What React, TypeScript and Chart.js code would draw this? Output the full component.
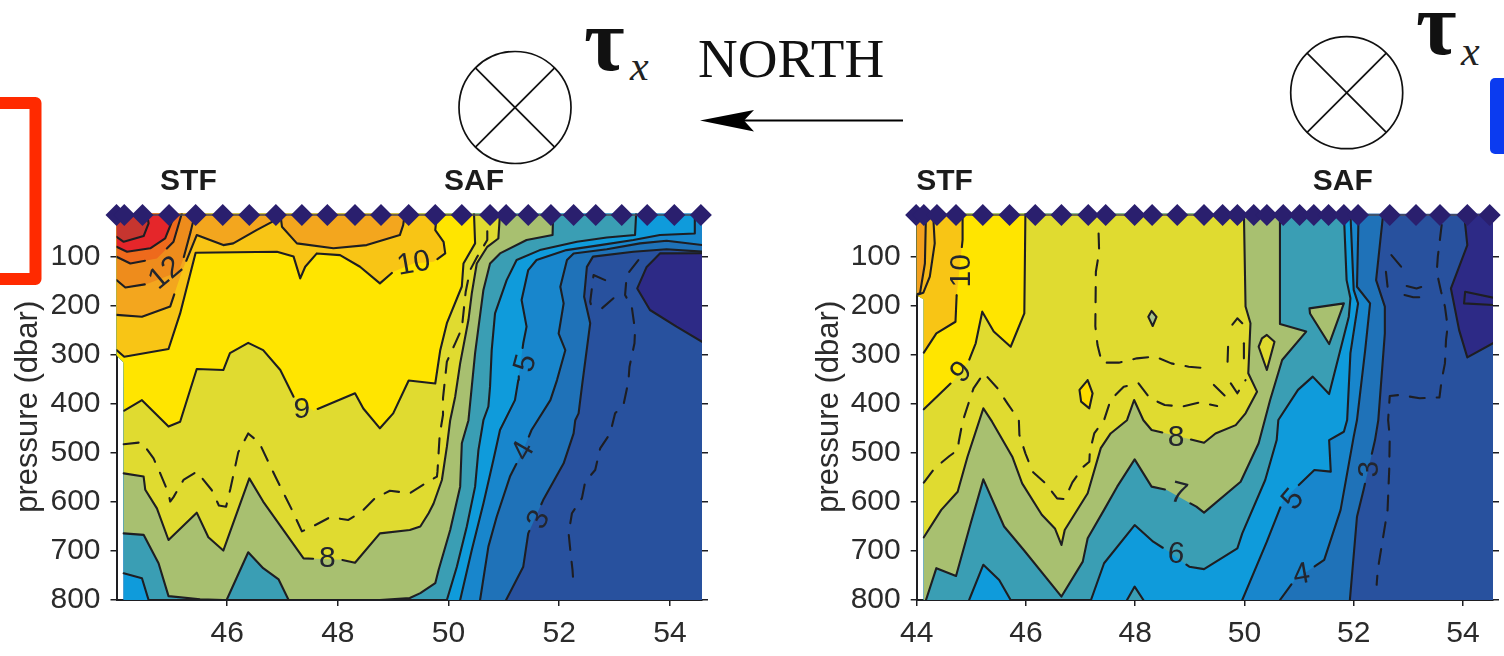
import React, { useEffect, useRef } from "react";
import { Chart, registerables } from "chart.js";
Chart.register(...registerables);

type P = [number, number];
const TOP = 11;
const XTICKS_L = [46, 48, 50, 52, 54];
const XTICKS_R = [44, 46, 48, 50, 52, 54];
const YTICKS = [100, 200, 300, 400, 500, 600, 700, 800];

const STATIONS_L = [44.0, 44.14, 44.47, 44.95, 45.43, 45.92, 46.4, 46.88, 47.35, 47.81, 48.31, 48.78, 49.28, 49.76, 50.24, 50.75, 51.04, 51.44, 51.85, 52.26, 52.66, 53.13, 53.59, 54.08, 54.56];
const STATIONS_R = [43.99, 44.13, 44.37, 44.72, 45.21, 45.7, 46.17, 46.65, 47.14, 47.46, 47.99, 48.31, 48.77, 49.26, 49.6, 49.87, 50.17, 50.41, 50.71, 51.01, 51.27, 51.54, 51.82, 52.08, 52.66, 53.14, 53.58, 54.08, 54.49];

const C = {
  indigo: "#2d2a86", dark: "#28519e", t3: "#1f72b8", t4: "#1886cc", t5: "#0f9bdb", t6: "#3a9eb4",
  t7: "#a8c070", t8: "#e0db30", t9: "#ffe500", t10: "#f8c515", t105: "#f3a61e", t12: "#ee8c1c",
  t125: "#ee6a1c", t13: "#e5262a", t14: "#c6352f",
};

// ---- left section contours (latitude, dbar)
const L_BASE: P[] = [[44, TOP], [54.6, TOP], [54.6, 800], [44.13, 800], [44.13, 315], [44, 300]];
const L_EDGE_ALL: P[] = [[44, TOP], [44, 300], [44.13, 315], [44.13, 800]];
const L_EDGE_UP: P[] = [[44, TOP], [44, 300], [44.13, 315]];
const L_CORNER: P[] = [[54.6, TOP]];
const L_TL: P[] = [[44, TOP]];
const L_COLD: P[] = [[54.6, 92], [53.82, 92.5], [53.58, 120], [53.41, 164], [53.64, 208], [54.12, 242], [54.6, 274]];
const L_T3: P[] = [[51.04, 800], [51.35, 732], [51.44, 664], [51.71, 596], [52.08, 521], [52.26, 460], [52.29, 433], [52.35, 419], [52.41, 364.5], [52.56, 235], [52.45, 181], [52.5, 120], [52.61, 99], [53.34, 89], [53.94, 84], [54.6, 89]];
const L_T4: P[] = [[50.57, 800], [50.72, 691], [50.87, 630], [51.11, 548], [51.35, 494], [51.5, 453], [51.84, 392], [51.96, 351], [52.11, 290], [51.99, 256], [52.08, 194.5], [52.02, 160.5], [52.14, 106], [52.26, 92.5], [52.86, 84], [53.46, 72], [53.94, 66.7], [54.6, 75.5]];
const L_T5: P[] = [[50.21, 800], [50.42, 698], [50.63, 603], [50.81, 514], [50.93, 453], [51.2, 392], [51.26, 351], [51.35, 276], [51.41, 242], [51.32, 187.7], [51.44, 126.5], [51.59, 106], [52.13, 85.7], [52.74, 75.5], [53.34, 65], [53.82, 55], [54.45, 51.7], [54.45, TOP]];
const L_T6: P[] = [[44.13, 745.5], [44.46, 755.6], [44.58, 800], [49.97, 800], [50.15, 732], [50.33, 650], [50.48, 568.6], [50.54, 494], [50.63, 433], [50.72, 405], [50.75, 364.5], [50.78, 290], [50.84, 215], [51.05, 147], [51.23, 106], [51.65, 85.7], [52.32, 68.7], [52.86, 60], [53.37, 55], [53.39, TOP]];
const L_T7: P[] = [[44.13, 664], [44.49, 667], [44.76, 725], [44.94, 792], [45.51, 798.5], [45.93, 800], [45.99, 800], [46.38, 702.6], [46.65, 735], [46.93, 758], [47.11, 800], [48.76, 800], [49.3, 796], [49.49, 786], [49.76, 765.8], [49.82, 738.6], [50.03, 657], [50.21, 568.6], [50.24, 480], [50.36, 433], [50.42, 364.5], [50.48, 296], [50.63, 167], [50.75, 113], [50.93, 92.5], [51.41, 65], [51.88, 55], [51.89, TOP]];
const L_T8: P[] = [[44.13, 541.5], [44.49, 548], [44.52, 575], [44.73, 613], [44.94, 677.5], [45.45, 621.7], [45.66, 672], [45.93, 699], [46.4, 551.7], [46.65, 599], [47.38, 715], [48.07, 718], [48.31, 724], [48.76, 664], [49.3, 657], [49.49, 650], [49.64, 623], [49.73, 603], [49.88, 555], [49.97, 487], [50.03, 433], [50.12, 385], [50.21, 317], [50.36, 228], [50.42, 174], [50.51, 113], [50.7, 79], [50.9, 62], [50.93, TOP]];
const L_T9: P[] = [[44.14, 413.5], [44.46, 392], [44.94, 446], [45.15, 436], [45.45, 328.5], [45.93, 330.5], [46.05, 296], [46.38, 275], [46.65, 290], [46.96, 330.5], [47.2, 385], [47.56, 413.5], [48.31, 378], [48.46, 409], [48.76, 449.5], [49.0, 419], [49.28, 352], [49.76, 358], [49.85, 290], [49.97, 235], [50.24, 160], [50.27, 113], [50.48, 72], [50.46, TOP]];
const L_T10: P[] = [[44, 290], [44.14, 303.3], [44.94, 287.7], [45.15, 215], [45.43, 91], [46.9, 89], [47.2, 99], [47.32, 143.5], [47.41, 119.7], [47.62, 92.5], [48.04, 96], [48.4, 119.7], [48.76, 153.7], [49.0, 130], [49.37, 113], [49.73, 109.5], [49.94, 92.5], [49.91, 68.7], [49.76, 45], [49.79, TOP]];
const L_T105A: P[] = [[44, 218], [44.46, 221.7], [44.97, 201], [45.18, 130], [45.45, 55], [45.93, 75.5], [46.11, 72], [46.53, 45], [46.87, 24.5], [46.9, TOP]];
const L_T105B: P[] = [[46.96, TOP], [46.99, 38], [47.26, 72], [47.92, 82], [48.52, 75.5], [49.12, 55], [49.18, 34.7], [49.21, TOP]];
const L_T12: P[] = [[44, 147], [44.16, 162], [44.55, 155], [45.12, 130], [45.21, 102.7], [45.34, 48], [45.42, TOP]];
const L_T125: P[] = [[44, 99.3], [44.25, 113], [44.73, 102.7], [45.03, 68.7], [45.18, TOP]];
const L_T13: P[] = [[44, 79], [44.19, 89], [44.61, 82], [44.88, 62], [45.06, TOP]];
const L_T14: P[] = [[44, 58.5], [44.13, 68.7], [44.49, 57], [44.58, 31], [44.55, TOP]];
const L_DASH_85: P[] = [[44.13, 482], [44.46, 478], [44.67, 511], [44.79, 541.5], [44.94, 582], [44.97, 599], [45.03, 590], [45.21, 555], [45.45, 538], [45.72, 575.5], [45.85, 607], [45.98, 609.5], [46.06, 572], [46.2, 498.6], [46.38, 460], [46.58, 479], [46.87, 548], [47.17, 616], [47.35, 660], [47.56, 649], [47.86, 631], [48.19, 636.6], [48.43, 619.6], [48.67, 592.5], [48.94, 577], [49.3, 582], [49.58, 562], [49.79, 548], [49.8, 538], [49.84, 463], [49.9, 422], [49.9, 388], [49.97, 313.5], [50.12, 276], [50.24, 245.5], [50.31, 170.7], [50.39, 126.5], [50.52, 99], [50.7, 65], [50.7, 38]];
const L_DASH_3: P[] = [[53.43, 106], [53.22, 136.7], [53.19, 177.5], [53.31, 201], [53.37, 249], [53.36, 276], [53.27, 323.7], [53.25, 354], [53.16, 402], [53.01, 419], [52.92, 460], [52.74, 490.5], [52.65, 534.6], [52.47, 558.5], [52.41, 592], [52.23, 623], [52.17, 664], [52.2, 698], [52.24, 738.6], [52.26, 772.6]];
const L_DASH_3B: P[] = [[52.83, 147], [52.62, 136.7], [52.56, 191], [52.62, 218]];
const L_DASH_3C: P[] = [[52.98, 184], [52.77, 204.7]];

// ---- right section contours
const R_BASE: P[] = [[44, TOP], [54.6, TOP], [54.6, 800], [44.13, 800], [44.13, 186], [44, 178]];
const R_EDGE_ALL: P[] = [[44, TOP], [44, 178], [44.13, 186], [44.13, 800]];
const R_EDGE_UP: P[] = [[44, TOP], [44, 178], [44.13, 186]];
const R_EDGE_DOWN: P[] = [[44.13, 186], [44, 178], [44, TOP]];
const R_TL: P[] = [[44, TOP]];
const R_COLD: P[] = [[54.02, TOP], [54.08, 75.5], [53.78, 164], [53.93, 249], [54.08, 304.7], [54.6, 272.7]];
const R_COLD_TOP: P[] = [[54.6, TOP]];
const R_T3: P[] = [[51.93, 800], [52.06, 630], [52.18, 575.5], [52.39, 473.5], [52.45, 432.65], [52.57, 255.7], [52.57, 201], [52.41, 147], [52.54, TOP]];
const R_T4: P[] = [[50.65, 800], [50.92, 759], [51.46, 718], [51.76, 616], [52.0, 466.6], [52.06, 432.65], [52.21, 289.7], [52.3, 194.5], [52.06, 160.5], [52.09, TOP]];
const R_T5: P[] = [[49.96, 800], [50.41, 681], [50.71, 596], [51.28, 534.6], [51.58, 538], [51.55, 473.5], [51.82, 456.5], [51.88, 432.65], [51.94, 296], [52.08, 194.5], [52.0, 167], [51.94, TOP]];
const R_T6: P[] = [[44.96, 800], [45.22, 728], [45.51, 759], [45.72, 800], [47.19, 800], [47.43, 725], [47.99, 647], [48.33, 681], [48.57, 698], [48.99, 732], [49.26, 737], [49.87, 694.5], [49.96, 664], [50.38, 555], [50.59, 473.5], [50.62, 432.65], [50.98, 371], [51.25, 344], [51.55, 379.5], [51.91, 221.7], [51.94, 184], [51.87, 147], [51.82, TOP]];
const R_T6_ISLE: P[] = [[47.85, 800], [47.99, 772.6], [48.15, 800]];
const R_T7: P[] = [[44.17, 800], [44.36, 735], [44.72, 751], [44.99, 643], [45.22, 553.7], [45.6, 650], [45.96, 698], [46.65, 793], [47.04, 721.6], [47.13, 674], [47.43, 616], [47.67, 568.6], [47.99, 513], [48.3, 568.6], [48.57, 575], [49.12, 609.5], [49.26, 621.7], [49.93, 558.5], [50.26, 480], [50.47, 391.7], [50.69, 310], [51.13, 252], [50.65, 236.7], [50.65, TOP]];
const R_T7_ISLE: P[] = [[51.19, 204.7], [51.82, 194.5], [51.55, 277.5], [51.2, 215]];
const R_T8: P[] = [[44.13, 672], [44.45, 616], [44.75, 579], [44.93, 507.5], [45.22, 408.7], [45.38, 436], [45.75, 507.5], [45.93, 562], [46.29, 626], [46.53, 654], [46.65, 687.6], [46.71, 657], [47.13, 582], [47.37, 490], [47.55, 460], [47.85, 433], [47.98, 391.7], [48.15, 433], [48.3, 453], [48.57, 460], [48.93, 470], [49.26, 479], [49.47, 460], [49.84, 443], [50.02, 419], [50.23, 374.7], [50.07, 337], [50.11, 235], [50.02, 201], [49.99, TOP]];
const R_T8_ISLE: P[] = [[50.41, 259], [50.55, 272.7], [50.41, 330.5], [50.26, 283], [50.32, 266]];
const R_T7_SPECK: P[] = [[48.3, 210], [48.39, 222], [48.32, 240.7], [48.24, 222]];
const R_T9: P[] = [[45.99, TOP], [45.97, 215], [45.72, 283], [45.41, 252], [45.2, 211.5], [45.08, 276], [44.96, 310], [44.66, 354], [44.13, 410.7]];
const R_T9_ISLE: P[] = [[47.13, 351], [47.22, 378], [47.16, 408.7], [47.01, 395], [46.98, 371]];
const R_T10: P[] = [[44.84, TOP], [44.84, 65], [44.73, 181], [44.71, 232], [44.36, 255.7], [44.13, 295]];
const R_T105: P[] = [[44.3, TOP], [44.33, 72], [44.24, 140], [44.12, 173], [44, 177.5]];
const R_T11: P[] = [[44.17, TOP], [44.15, 113], [44.06, 174], [44, 176]];
const R_INNER: P[] = [[54.6, 184], [54.04, 170.7], [54.02, 194.5], [54.6, 198]];
const R_DASH_85A: P[] = [[44.13, 560.5], [44.33, 531], [44.6, 506], [44.75, 494], [44.77, 477], [44.84, 436], [44.93, 405], [45.04, 368], [45.23, 337], [45.48, 368], [45.66, 398.5], [45.87, 432.5], [45.88, 463], [45.99, 500.6], [46.12, 538], [46.36, 562], [46.57, 592.5], [46.71, 594], [46.85, 560], [47.05, 528], [47.16, 517.7], [47.17, 497], [47.25, 460], [47.43, 432.65], [47.55, 391.7], [47.79, 364.5], [48.06, 357.7], [48.27, 388], [48.54, 402], [48.87, 405], [49.19, 396.5], [49.5, 404]];
const R_DASH_85B: P[] = [[47.33, 51.7], [47.34, 89], [47.28, 130], [47.27, 241], [47.31, 279.5], [47.39, 315.5], [47.7, 315.5], [48.03, 306.7], [48.36, 303], [48.66, 317], [48.98, 323.7], [49.32, 327]];
const R_DASH_C: P[] = [[49.44, 361], [49.66, 385]];
const R_DASH_D: P[] = [[49.75, 357.7], [49.87, 378], [50.02, 351]];
const R_DASH_E: P[] = [[49.99, 306.7], [49.99, 269]];
const R_DASH_F: P[] = [[49.96, 235], [49.87, 225], [49.75, 242]];
const R_DASH_G: P[] = [[49.7, 283], [49.69, 317]];
const R_DASH_3: P[] = [[53.61, 34.7], [53.54, 99], [53.52, 130], [53.6, 170.7], [53.67, 201], [53.72, 242], [53.69, 269], [53.67, 317], [53.61, 351], [53.57, 386.3], [53.21, 388], [52.84, 381.5], [52.66, 383.5], [52.63, 432.65], [52.66, 466.6], [52.65, 534.6], [52.62, 616], [52.53, 677.5], [52.44, 738.6], [52.42, 769]];
const R_DASH_3B: P[] = [[52.69, 96], [52.87, 119.7]];
const R_DASH_3C: P[] = [[52.59, 130], [52.62, 160.5]];
const R_DASH_3D: P[] = [[52.97, 159], [53.15, 164], [53.3, 159]];
const R_DASH_3E: P[] = [[52.93, 177.5], [53.09, 182], [53.27, 182]];

type Lab = { t: string; x: number; y: number; r: number; gap?: number; bold?: boolean };
const LABELS_L: Lab[] = [
  { t: "12", x: 44.88, y: 132, r: -40, gap: 24 },
  { t: "10", x: 49.37, y: 112, r: -10, gap: 24 },
  { t: "9", x: 47.35, y: 410, r: 0, gap: 15 },
  { t: "8", x: 47.81, y: 714, r: 0, gap: 15 },
  { t: "5", x: 51.38, y: 316.5, r: -75, gap: 15 },
  { t: "4", x: 51.34, y: 495, r: -60, gap: 15 },
  { t: "3", x: 51.62, y: 635, r: -65, gap: 15 },
  { t: "STF", x: 45.3, y: -55, r: 0, bold: true },
  { t: "SAF", x: 50.46, y: -55, r: 0, bold: true },
];
const LABELS_R: Lab[] = [
  { t: "10", x: 44.81, y: 128, r: -90, gap: 24 },
  { t: "9", x: 44.81, y: 334, r: -45, gap: 15 },
  { t: "8", x: 48.75, y: 467, r: 0, gap: 15 },
  { t: "7", x: 48.8, y: 582, r: 15, gap: 15 },
  { t: "6", x: 48.75, y: 705, r: 5, gap: 15 },
  { t: "5", x: 50.88, y: 594, r: -50, gap: 15 },
  { t: "4", x: 51.04, y: 747, r: -10, gap: 15 },
  { t: "3", x: 52.27, y: 533, r: -90, gap: 15 },
  { t: "STF", x: 44.51, y: -55, r: 0, bold: true },
  { t: "SAF", x: 51.8, y: -55, r: 0, bold: true },
];

type Band = { pts: P[]; close?: P[]; color?: string; line?: boolean; loop?: boolean };
const BANDS_L: Band[] = [
  { pts: L_BASE, color: C.dark },
  { pts: L_COLD, close: L_CORNER, color: C.indigo, line: true },
  { pts: L_T3, close: [...L_CORNER, ...L_EDGE_ALL], color: C.t3, line: true },
  { pts: L_T4, close: [...L_CORNER, ...L_EDGE_ALL], color: C.t4, line: true },
  { pts: L_T5, close: L_EDGE_ALL, color: C.t5, line: true },
  { pts: L_T6, close: L_EDGE_UP, color: C.t6, line: true },
  { pts: L_T7, close: L_EDGE_UP, color: C.t7, line: true },
  { pts: L_T8, close: L_EDGE_UP, color: C.t8, line: true },
  { pts: L_T9, close: L_EDGE_UP, color: C.t9, line: true },
  { pts: L_T10, close: L_TL, color: C.t10, line: true },
  { pts: L_T105A, close: L_TL, color: C.t105, line: true },
  { pts: L_T105B, color: C.t105, line: true },
  { pts: L_T12, close: L_TL, color: C.t12, line: true },
  { pts: L_T125, close: L_TL, color: C.t125, line: true },
  { pts: L_T13, close: L_TL, color: C.t13, line: true },
  { pts: L_T14, close: L_TL, color: C.t14, line: true },
];
const BANDS_R: Band[] = [
  { pts: R_BASE, color: C.dark },
  { pts: R_COLD, close: R_COLD_TOP, color: C.indigo, line: true },
  { pts: R_T3, close: R_EDGE_ALL, color: C.t3, line: true },
  { pts: R_T4, close: R_EDGE_ALL, color: C.t4, line: true },
  { pts: R_T5, close: R_EDGE_ALL, color: C.t5, line: true },
  { pts: R_T6, close: R_EDGE_ALL, color: C.t6, line: true },
  { pts: R_T6_ISLE, color: C.t6, line: true },
  { pts: R_T7, close: R_EDGE_ALL, color: C.t7, line: true },
  { pts: R_T7_ISLE, color: C.t7, line: true, loop: true },
  { pts: R_T8, close: R_EDGE_UP, color: C.t8, line: true },
  { pts: R_T8_ISLE, color: C.t8, line: true, loop: true },
  { pts: R_T7_SPECK, color: "#a9c38a", line: true, loop: true },
  { pts: R_T9, close: R_EDGE_DOWN, color: C.t9, line: true },
  { pts: R_T9_ISLE, color: "#ffdc00", line: true, loop: true },
  { pts: R_T10, close: R_EDGE_DOWN, color: C.t10, line: true },
  { pts: R_T105, close: R_TL, color: "#f5b81b", line: true },
  { pts: R_T11, close: R_TL, color: "#f3a01e", line: true },
];
const DASHES_L: P[][] = [L_DASH_85, L_DASH_3, L_DASH_3B, L_DASH_3C];
const DASHES_R: P[][] = [R_DASH_85A, R_DASH_85B, R_DASH_C, R_DASH_D, R_DASH_E, R_DASH_F, R_DASH_G, R_DASH_3, R_DASH_3B, R_DASH_3C, R_DASH_3D, R_DASH_3E];
const SOLID_R: P[][] = [R_INNER];

const INK = "#1e1e22";
const TXT = "#2b2b2b";
const SANS = "'Liberation Sans', Arial, sans-serif";
const FS = 30;
const KM_X = 55.35;
const KM_Y = 0.49;

const xy = (a: P[]) => a.map(([x, y]) => ({ x, y }));

// break a contour where an inline label sits, as a contour plot does
function breakAtLabels(pts: P[], labels: Lab[]): P[][] {
  const gaps = labels.filter((l) => l.gap);
  const inside = (p: P) => gaps.some((l) => Math.hypot((p[0] - l.x) * KM_X, (p[1] - l.y) * KM_Y) < (l.gap as number));
  const runs: P[][] = [];
  let cur: P[] = [];
  for (let i = 0; i < pts.length; i++) {
    const b = pts[i];
    if (i > 0) {
      const a = pts[i - 1];
      const n = 40;
      let was = inside(a);
      for (let k = 1; k <= n; k++) {
        const q: P = [a[0] + ((b[0] - a[0]) * k) / n, a[1] + ((b[1] - a[1]) * k) / n];
        const now = inside(q);
        if (now && !was) { cur.push(q); if (cur.length > 1) runs.push(cur); cur = []; }
        if (!now && was) cur = [q];
        was = now;
      }
    }
    if (!inside(b)) cur.push(b);
  }
  if (cur.length > 1) runs.push(cur);
  return runs;
}

function buildDatasets(bands: Band[], dashes: P[][], solids: P[][], stations: number[], labels: Lab[]) {
  const ds: any[] = [];
  let order = 5000;
  for (const b of bands) {
    ds.push({ data: xy([...b.pts, ...(b.close || [])]), showLine: true, fill: "shape", backgroundColor: b.color, borderWidth: 0, borderColor: "transparent", pointRadius: 0, order: order-- });
  }
  const stroke = (pts: P[], dash: number[]) => ds.push({ data: xy(pts), showLine: true, fill: false, borderColor: INK, borderWidth: 2.1, borderDash: dash, borderJoinStyle: "round", borderCapStyle: "round", pointRadius: 0, order: 100 });
  for (const b of bands) if (b.line) for (const run of breakAtLabels(b.loop ? [...b.pts, b.pts[0]] : b.pts, labels)) stroke(run, []);
  for (const s of solids) stroke(s, []);
  for (const d of dashes) stroke(d, [15, 12]);
  ds.push({ data: stations.map((x) => ({ x, y: 14 })), showLine: true, borderColor: "#4a4a55", borderWidth: 1.5, pointStyle: "rectRot", pointRadius: 11, pointBackgroundColor: "#2a1f6e", pointBorderWidth: 0, clip: false, order: 1 });
  return ds;
}

function labelPlugin(labels: Lab[]) {
  return {
    id: "contourLabels",
    afterDatasetsDraw(chart: any) {
      const { ctx, scales } = chart;
      for (const l of labels) {
        const px = scales.x.getPixelForValue(l.x);
        const py = scales.y.getPixelForValue(l.y);
        ctx.save();
        ctx.translate(px, py);
        ctx.rotate((l.r * Math.PI) / 180);
        ctx.font = `${l.bold ? "bold " : ""}${FS}px ${SANS}`;
        ctx.textAlign = "center";
        ctx.textBaseline = "middle";
        ctx.fillStyle = l.bold ? "#1c1c1c" : "#23262e";
        ctx.fillText(l.t, 0, 1);
        ctx.restore();
      }
    },
  };
}

function makeChart(canvas: HTMLCanvasElement, o: { bands: Band[]; dashes: P[][]; solids: P[][]; stations: number[]; labels: Lab[]; xTicks: number[]; xMax: number; padLeft: number; yWidth: number; padRight: number; y2Width: number }) {
  const setTicks = (vals: number[]) => (s: any) => { s.ticks = vals.map((value) => ({ value })); };
  return new Chart(canvas, {
    type: "scatter",
    data: { datasets: buildDatasets(o.bands, o.dashes, o.solids, o.stations, o.labels) },
    plugins: [labelPlugin(o.labels)],
    options: {
      animation: false,
      responsive: false,
      events: [],
      layout: { padding: { left: o.padLeft, right: o.padRight, top: 213.5, bottom: 0 } },
      elements: { line: { tension: 0 } },
      plugins: { legend: { display: false }, tooltip: { enabled: false }, filler: { propagate: false } },
      scales: {
        x: {
          type: "linear", min: 44, max: o.xMax, afterBuildTicks: setTicks(o.xTicks),
          afterFit: (s: any) => { s.height = 56; },
          grid: { drawOnChartArea: false, tickLength: 6, color: INK, lineWidth: 1.5 },
          border: { display: true, color: INK, width: 2 },
          ticks: { autoSkip: false, maxRotation: 0, padding: 10, color: TXT, font: { family: SANS, size: FS }, callback: (v: any) => String(v) },
        },
        y: {
          type: "linear", reverse: true, min: TOP, max: 800, position: "left", afterBuildTicks: setTicks(YTICKS),
          afterFit: (s: any) => { s.width = o.yWidth; },
          grid: { drawOnChartArea: false, tickLength: 6, color: INK, lineWidth: 1.5 },
          border: { display: true, color: INK, width: 2 },
          title: { display: true, text: "pressure (dbar)", color: TXT, font: { family: SANS, size: 31 }, padding: 0 },
          ticks: { autoSkip: false, padding: 10, color: TXT, font: { family: SANS, size: FS }, callback: (v: any) => String(v) },
        },
        y2: {
          type: "linear", reverse: true, min: TOP, max: 800, position: "right", afterBuildTicks: setTicks(YTICKS),
          afterFit: (s: any) => { s.width = o.y2Width; },
          grid: { drawOnChartArea: false, tickLength: 6, color: INK, lineWidth: 1.5 },
          border: { display: false },
          ticks: { display: false },
        },
      },
    } as any,
  });
}

export default function App() {
  const leftRef = useRef<HTMLCanvasElement>(null);
  const rightRef = useRef<HTMLCanvasElement>(null);
  useEffect(() => {
    const a = makeChart(leftRef.current!, { bands: BANDS_L, dashes: DASHES_L, solids: [], stations: STATIONS_L, labels: LABELS_L, xTicks: XTICKS_L, xMax: 54.58, padLeft: 10, yWidth: 106.5, padRight: 794, y2Width: 8 });
    const b = makeChart(rightRef.current!, { bands: BANDS_R, dashes: DASHES_R, solids: SOLID_R, stations: STATIONS_R, labels: LABELS_R, xTicks: XTICKS_R, xMax: 54.55, padLeft: 811, yWidth: 105.7, padRight: 0, y2Width: 2.4 });
    return () => { a.destroy(); b.destroy(); };
  }, []);
  const cv: React.CSSProperties = { position: "absolute", left: 0, top: 0, width: 1504, height: 656 };
  const Cross = ({ cx, cy }: { cx: number; cy: number }) => {
    const d = 56 * Math.SQRT1_2;
    return (
      <g fill="none" stroke="#111" strokeWidth={1.7}>
        <circle cx={cx} cy={cy} r={56} />
        <line x1={cx - d} y1={cy - d} x2={cx + d} y2={cy + d} />
        <line x1={cx - d} y1={cy + d} x2={cx + d} y2={cy - d} />
      </g>
    );
  };
  return (
    <div style={{ position: "fixed", left: 0, top: 0, width: 1504, height: 656, background: "#fff", overflow: "hidden" }}>
      <svg width={1504} height={656} style={cv}>
        <path d="M-12 103 H35.5 V279 H-12" fill="none" stroke="#ff2a00" strokeWidth={12} strokeLinejoin="round" />
        <rect x={1490} y={78} width={40} height={76} rx={5} fill="#0b3bf0" />
        <Cross cx={515} cy={107.5} />
        <Cross cx={1346.7} cy={92.7} />
        <line x1={903} y1={120.5} x2={720} y2={120.5} stroke="#000" strokeWidth={2.2} />
        <path d="M700 120.5 L754 110 L744 120.5 L754 131.5 Z" fill="#000" />
        <text x={698} y={77} fontFamily="'Liberation Serif', serif" fontSize={55} fill="#111">NORTH</text>
        <text x={584} y={70} fontFamily="'Liberation Serif', serif" fontWeight="bold" fontSize={88} fill="#111">τ</text>
        <text x={630} y={80} fontFamily="'Liberation Serif', serif" fontStyle="italic" fontSize={42} fill="#222">x</text>
        <text x={1416} y={54} fontFamily="'Liberation Serif', serif" fontWeight="bold" fontSize={88} fill="#111">τ</text>
        <text x={1461} y={65} fontFamily="'Liberation Serif', serif" fontStyle="italic" fontSize={42} fill="#222">x</text>
      </svg>
      <canvas ref={leftRef} width={1504} height={656} style={cv} />
      <canvas ref={rightRef} width={1504} height={656} style={cv} />
    </div>
  );
}
